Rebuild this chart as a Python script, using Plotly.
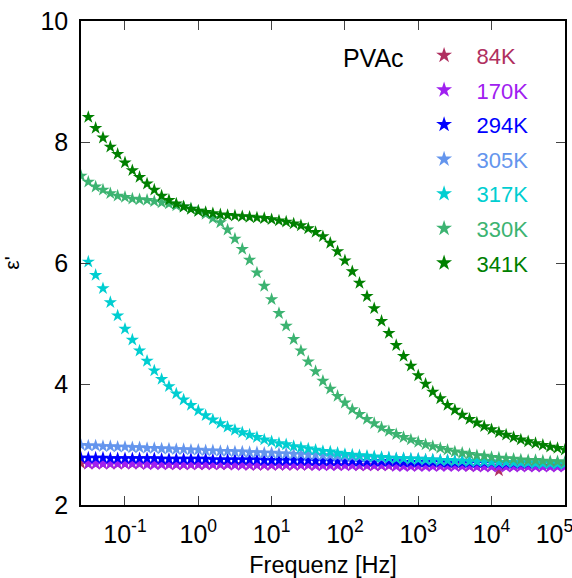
import plotly.graph_objects as go

# Frequencies (Hz), 10 points per decade
freq = [0.0251, 0.0316, 0.0398, 0.0501, 0.0631, 0.0794,
        0.1, 0.126, 0.158, 0.200, 0.251, 0.316, 0.398, 0.501, 0.631, 0.794,
        1.0, 1.26, 1.58, 2.00, 2.51, 3.16, 3.98, 5.01, 6.31, 7.94,
        10.0, 12.6, 15.8, 20.0, 25.1, 31.6, 39.8, 50.1, 63.1, 79.4,
        100, 126, 158, 200, 251, 316, 398, 501, 631, 794,
        1000, 1260, 1580, 2000, 2510, 3160, 3980, 5010, 6310, 7940,
        10000, 12600, 15800, 20000, 25100, 31600, 39800, 50100, 63100, 79400,
        100000]

eps_84K = [2.69, 2.68, 2.68, 2.68, 2.68, 2.68,
           2.68, 2.68, 2.68, 2.68, 2.68, 2.68, 2.67, 2.67, 2.67, 2.67,
           2.67, 2.67, 2.67, 2.67, 2.67, 2.67, 2.67, 2.66, 2.66, 2.66,
           2.66, 2.66, 2.66, 2.66, 2.66, 2.66, 2.66, 2.66, 2.66, 2.66,
           2.66, 2.66, 2.65, 2.65, 2.65, 2.65, 2.65, 2.65, 2.65, 2.65,
           2.65, 2.65, 2.65, 2.65, 2.65, 2.65, 2.65, 2.64, 2.64, 2.64,
           2.64, 2.57, 2.64, 2.64, 2.64, 2.64, 2.64, 2.64, 2.64, 2.64,
           2.64]

eps_170K = [2.68, 2.68, 2.68, 2.68, 2.68,
            2.68, 2.68, 2.68, 2.67, 2.67, 2.67, 2.67, 2.67, 2.67, 2.67,
            2.67, 2.67, 2.67, 2.67, 2.67, 2.66, 2.66, 2.66, 2.66, 2.66,
            2.66, 2.66, 2.66, 2.66, 2.66, 2.66, 2.65, 2.65, 2.65, 2.65,
            2.65, 2.65, 2.65, 2.65, 2.65, 2.65, 2.65, 2.64, 2.64, 2.64,
            2.64, 2.64, 2.64, 2.64, 2.64, 2.64, 2.64, 2.64, 2.63, 2.63,
            2.63, 2.63, 2.63, 2.63, 2.63, 2.63, 2.63, 2.63, 2.63, 2.63,
            2.63]

eps_294K = [2.78, 2.78, 2.78, 2.78, 2.77, 2.77,
            2.77, 2.77, 2.77, 2.77, 2.77, 2.76, 2.76, 2.76, 2.76, 2.76,
            2.76, 2.76, 2.75, 2.75, 2.75, 2.75, 2.75, 2.75, 2.75, 2.74,
            2.74, 2.74, 2.74, 2.74, 2.74, 2.74, 2.73, 2.73, 2.73, 2.73,
            2.73, 2.73, 2.72, 2.72, 2.72, 2.72, 2.72, 2.72, 2.71, 2.71,
            2.71, 2.71, 2.71, 2.71, 2.70, 2.70, 2.70, 2.70, 2.70, 2.70,
            2.70, 2.69, 2.69, 2.69, 2.69, 2.69, 2.69, 2.69, 2.69, 2.68,
            2.68]

eps_305K = [2.99, 2.98, 2.98, 2.97, 2.97, 2.96,
            2.96, 2.95, 2.95, 2.94, 2.94, 2.93, 2.93, 2.92, 2.92, 2.91,
            2.91, 2.90, 2.90, 2.89, 2.89, 2.88, 2.88, 2.87, 2.87, 2.86,
            2.86, 2.85, 2.85, 2.84, 2.84, 2.83, 2.83, 2.82, 2.82, 2.81,
            2.81, 2.80, 2.80, 2.79, 2.79, 2.78, 2.78, 2.77, 2.77, 2.76,
            2.76, 2.75, 2.75, 2.74, 2.74, 2.73, 2.73, 2.73, 2.72, 2.72,
            2.72, 2.71, 2.71, 2.71, 2.70, 2.70, 2.70, 2.69, 2.69, 2.69,
            2.68]

eps_317K = [6.02, 5.80, 5.58, 5.35, 5.13,
            4.91, 4.73, 4.55, 4.38, 4.22, 4.08, 3.96, 3.84, 3.74, 3.65,
            3.56, 3.48, 3.41, 3.35, 3.29, 3.24, 3.20, 3.16, 3.12, 3.08,
            3.05, 3.02, 3.00, 2.97, 2.95, 2.93, 2.91, 2.89, 2.88, 2.86,
            2.84, 2.83, 2.82, 2.81, 2.80, 2.79, 2.78, 2.77, 2.77, 2.76,
            2.76, 2.75, 2.75, 2.74, 2.74, 2.73, 2.73, 2.72, 2.72, 2.72,
            2.71, 2.71, 2.71, 2.70, 2.70, 2.70, 2.69, 2.69, 2.69, 2.68,
            2.68]

eps_330K = [7.44, 7.34, 7.26, 7.21, 7.15, 7.11,
            7.09, 7.06, 7.05, 7.04, 7.02, 7.00, 6.98, 6.95, 6.93, 6.90,
            6.86, 6.81, 6.74, 6.67, 6.55, 6.40, 6.23, 6.05, 5.84, 5.62,
            5.40, 5.17, 4.96, 4.74, 4.55, 4.37, 4.21, 4.05, 3.92, 3.80,
            3.69, 3.58, 3.50, 3.42, 3.35, 3.28, 3.22, 3.17, 3.12, 3.08,
            3.04, 3.00, 2.97, 2.94, 2.91, 2.88, 2.86, 2.84, 2.82, 2.81,
            2.79, 2.78, 2.77, 2.76, 2.75, 2.74, 2.74, 2.73, 2.72, 2.72,
            2.71]

eps_341K = [8.41, 8.23, 8.07, 7.92, 7.80,
            7.66, 7.53, 7.42, 7.31, 7.21, 7.11, 7.04, 6.98, 6.93, 6.89,
            6.86, 6.84, 6.82, 6.80, 6.79, 6.78, 6.77, 6.76, 6.75, 6.74,
            6.72, 6.70, 6.68, 6.65, 6.62, 6.57, 6.51, 6.44, 6.33, 6.19,
            6.04, 5.86, 5.67, 5.45, 5.25, 5.04, 4.84, 4.64, 4.46, 4.30,
            4.14, 4.00, 3.87, 3.76, 3.65, 3.57, 3.49, 3.42, 3.36, 3.30,
            3.25, 3.20, 3.16, 3.12, 3.08, 3.05, 3.02, 2.99, 2.96, 2.94,
            2.91]

labels = ["84K", "170K", "294K", "305K", "317K", "330K", "341K"]
colors = ["#b03060", "#a020f0", "#0000ff", "#6495ed", "#00ced1", "#3cb371", "#008000"]
series = [eps_84K, eps_170K, eps_294K, eps_305K, eps_317K, eps_330K, eps_341K]

tick_vals = [0.1, 1, 10, 100, 1000, 10000, 100000]
tick_text = ["10<sup>-1</sup>", "10<sup>0</sup>", "10<sup>1</sup>", "10<sup>2</sup>",
             "10<sup>3</sup>", "10<sup>4</sup>", "10<sup>5</sup>\u00a0\u00a0\u00a0"]

FONT = "Liberation Sans, Arial, sans-serif"

fig = go.Figure()
for lab, col, ys in zip(labels, colors, series):
    xs = freq[len(freq) - len(ys):]
    fig.add_trace(go.Scatter(
        x=xs, y=ys, mode="markers",
        name=f"<span style='color:{col}'>{lab}</span>",
        legendgroup=lab,
        marker=dict(symbol="star", size=10, color=col, line=dict(width=0)),
    ))

axis_common = dict(
    showline=True, linecolor="black", linewidth=1.5, mirror="ticks",
    ticks="inside", ticklen=9, tickwidth=1, tickcolor="#444",
    showgrid=False, zeroline=False, automargin=False,
    tickfont=dict(family=FONT, size=25, color="black"),
    ticklabelstandoff=6, ticklabeloverflow="allow",
)

fig.update_xaxes(type="log", range=[-1.6, 5.002], tickvals=tick_vals, ticktext=tick_text,
                 title=dict(text="Frequenz [Hz]", font=dict(family=FONT, size=23.5), standoff=14),
                 **axis_common)
fig.update_yaxes(range=[2, 10], tick0=2, dtick=2,
                 title=dict(text="ε'", font=dict(family=FONT, size=21), standoff=24),
                 **axis_common)

fig.update_layout(
    width=572, height=578,
    margin=dict(l=81, r=7, t=21, b=73, autoexpand=False),
    paper_bgcolor="white", plot_bgcolor="white",
    font=dict(family=FONT, size=22, color="black"),
    showlegend=True,
    legend=dict(
        x=0.537, y=0.972, xanchor="left", yanchor="top",
        bgcolor="rgba(0,0,0,0)",
        title=dict(text="PVAc", side="left", font=dict(family=FONT, size=25, color="black")),
        itemsizing="constant", itemwidth=55,
        traceorder="grouped", tracegroupgap=3,
        font=dict(family=FONT, size=22),
    ),
)

fig.write_html("out.html")
